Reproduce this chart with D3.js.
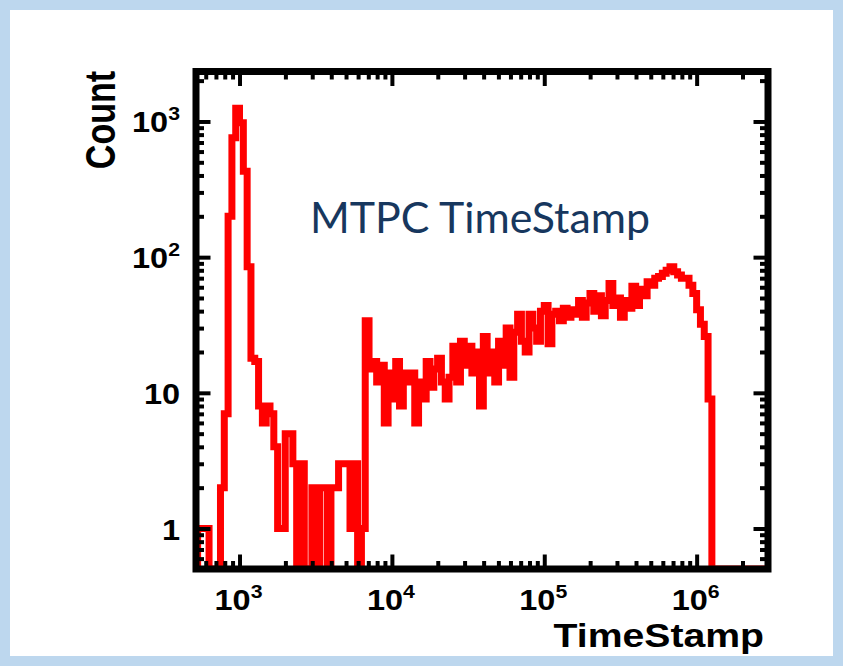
<!DOCTYPE html>
<html>
<head>
<meta charset="utf-8">
<script src="https://cdn.jsdelivr.net/npm/d3@7"></script>
<style>
  html, body { margin: 0; padding: 0; background: #bdd7ee; }
  svg { display: block; }
</style>
</head>
<body>
<svg id="chart" width="843" height="666"></svg>
<script>
// MTPC time-stamp histogram: logarithmic bins, counts per bin
const binLogStart = 2.7;    // log10 of the lower edge of bin 0
const binLogWidth = 0.025;  // bin width in decades

const counts = [
  0, 1, 1, 1, 0, 0, 0, 2, 7, 200,
  760, 1250, 980, 430, 85, 18, 17, 8, 6, 8,
  7, 4, 1, 1, 5, 5, 3, 0, 3, 0,
  0, 2, 0, 2, 2, 0, 2, 2, 3, 3,
  3, 1, 3, 0, 1, 34, 15, 17, 12, 16,
  6, 14, 9, 17, 8, 14, 12, 14, 6, 12,
  9, 17, 11, 15, 18, 12, 9, 13, 22, 12,
  24, 16, 22, 14, 20, 8, 26, 14, 20, 12,
  24, 16, 30, 13, 28, 38, 24, 20, 38, 30,
  24, 40, 44, 23, 38, 40, 34, 42, 36, 41,
  38, 48, 36, 46, 54, 40, 52, 37, 48, 64,
  44, 50, 36, 48, 42, 61, 44, 58, 52, 66,
  62, 70, 72, 76, 80, 85, 78, 74, 70, 70,
  62, 54, 41, 32, 26, 9, 0, 0, 0, 0,
  0, 0, 0, 0, 0, 0, 0, 0, 0, 0,
  0, 0
];

// axis ranges and labelled ticks
const xDomain = [518, 2.94e6];
const yDomain = [0.503, 2335];
const xMajorTicks = [1e3, 1e4, 1e5, 1e6];
const xTickBase = ["10", "10", "10", "10"];
const xTickExp = ["3", "4", "5", "6"];
const yMajorTicks = [1, 10, 100, 1000];
const yTickBase = ["1", "10", "10", "10"];
const yTickExp = ["", "", "2", "3"];

const titleText = "MTPC TimeStamp";
const xTitle = "TimeStamp";
const yTitle = "Count";

// frame of the plotting area (centre line of the thick border)
const frame = { left: 196, right: 768, top: 71.5, bottom: 569 };
const stretch = 1.12;   // labels are drawn slightly wide
const labelFont = "'Liberation Sans', Arial, Helvetica, sans-serif";

const svg = d3.select("#chart");

// page: light blue border around a white slide
svg.append("rect").attr("x", 0).attr("y", 0).attr("width", 843).attr("height", 666)
  .attr("fill", "#bdd7ee");
svg.append("rect").attr("x", 10).attr("y", 10).attr("width", 823).attr("height", 646)
  .attr("fill", "#ffffff");

const x = d3.scaleLog().domain(xDomain).range([frame.left, frame.right]);
const y = d3.scaleLog().domain(yDomain).range([frame.bottom, frame.top]).clamp(true);

// histogram outline: horizontal step per bin, verticals between bins
const pts = [];
counts.forEach((c, i) => {
  const lo = Math.pow(10, binLogStart + i * binLogWidth);
  const hi = Math.pow(10, binLogStart + (i + 1) * binLogWidth);
  const v = Math.max(c, yDomain[0]);
  pts.push([lo, v], [hi, v]);
});

svg.append("clipPath").attr("id", "plotClip")
  .append("rect")
  .attr("x", frame.left).attr("y", frame.top)
  .attr("width", frame.right - frame.left).attr("height", frame.bottom - frame.top);

const line = d3.line().x(d => x(d[0])).y(d => y(d[1]));
svg.append("path")
  .attr("clip-path", "url(#plotClip)")
  .attr("d", line(pts))
  .attr("fill", "none")
  .attr("stroke", "#ff0000")
  .attr("stroke-width", 7)
  .attr("stroke-linejoin", "miter");

// tick marks on all four sides, pointing inward
const xMinor = x.ticks().filter(t => !xMajorTicks.includes(t));
const yMinor = y.ticks().filter(t => !yMajorTicks.includes(t));
const majorLen = 14.5, minorLen = 8;

function tickAxis(axisFn, scale, values, len, transform) {
  const g = svg.append("g").attr("transform", transform)
    .call(axisFn(scale).tickValues(values).tickSize(-len).tickFormat(() => ""));
  g.select(".domain").remove();
  g.selectAll("text").remove();
  g.selectAll("line").attr("stroke", "#000").attr("stroke-width", 4);
}
[[xMajorTicks, majorLen], [xMinor, minorLen]].forEach(([vals, len]) => {
  tickAxis(d3.axisBottom, x, vals, len, `translate(0,${frame.bottom})`);
  tickAxis(d3.axisTop, x, vals, len, `translate(0,${frame.top})`);
});
[[yMajorTicks, majorLen], [yMinor, minorLen]].forEach(([vals, len]) => {
  tickAxis(d3.axisLeft, y, vals, len, `translate(${frame.left},0)`);
  tickAxis(d3.axisRight, y, vals, len, `translate(${frame.right},0)`);
});

// thick black frame
svg.append("rect")
  .attr("x", frame.left).attr("y", frame.top)
  .attr("width", frame.right - frame.left).attr("height", frame.bottom - frame.top)
  .attr("fill", "none").attr("stroke", "#000").attr("stroke-width", 7);

// tick labels with superscript exponents
function powerLabel(gx, gy, anchor, base, exp) {
  const t = svg.append("text")
    .attr("transform", `translate(${gx},${gy}) scale(${stretch},1)`)
    .attr("text-anchor", anchor)
    .attr("font-family", labelFont).attr("font-weight", "bold")
    .attr("font-size", 29).attr("fill", "#000")
    .text(base);
  if (exp) {
    t.append("tspan").attr("dy", -12).attr("font-size", 19).text(exp);
  }
}
xMajorTicks.forEach((v, i) => powerLabel(x(v) - 1, 609.5, "middle", xTickBase[i], xTickExp[i]));
yMajorTicks.forEach((v, i) => powerLabel(180, y(v) + 11, "end", yTickBase[i], yTickExp[i]));

// axis titles
svg.append("text")
  .attr("transform", `translate(764,647) scale(1.17,1)`)
  .attr("text-anchor", "end")
  .attr("font-family", labelFont).attr("font-weight", "bold")
  .attr("font-size", 33.5).attr("fill", "#000")
  .text(xTitle);

svg.append("text")
  .attr("transform", `translate(115,71) scale(1.25,1) rotate(-90)`)
  .attr("text-anchor", "end")
  .attr("font-family", labelFont).attr("font-weight", "bold")
  .attr("font-size", 34).attr("fill", "#000")
  .text(yTitle);

// caption inside the plot
svg.append("text")
  .attr("x", 310).attr("y", 233)
  .attr("font-family", "Lato, 'Open Sans', sans-serif")
  .attr("font-size", 42).attr("fill", "#17375e")
  .attr("textLength", 340).attr("lengthAdjust", "spacingAndGlyphs")
  .text(titleText);
</script>
</body>
</html>
